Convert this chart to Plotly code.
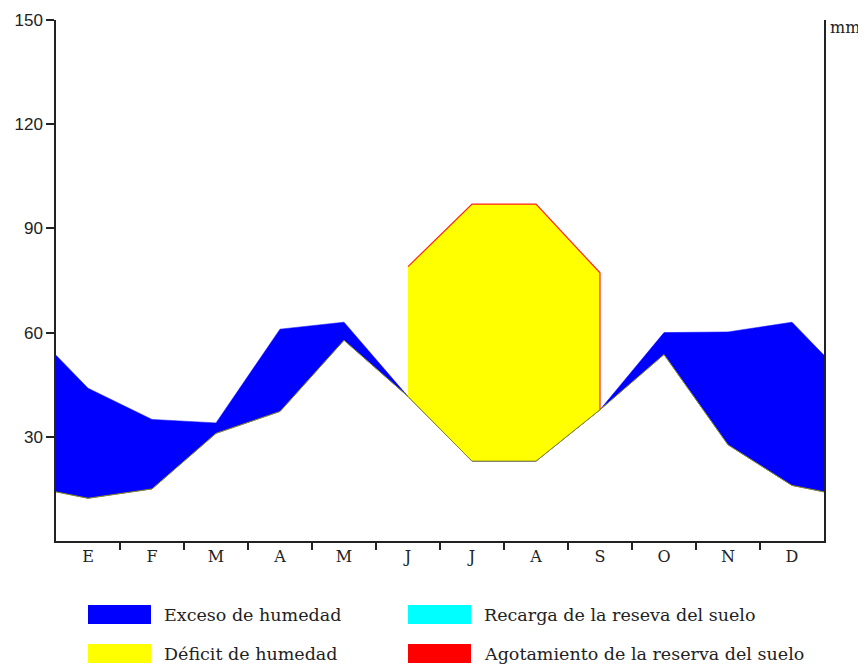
import plotly.graph_objects as go

# ---- data (mm) ----
months = ["E", "F", "M", "A", "M", "J", "J", "A", "S", "O", "N", "D"]
precip = [44, 35, 34, 61, 63, 41.6, 23, 23, 37.8, 60, 60.2, 63]
etp = [12.3, 15, 31, 37.3, 57.8, 79, 97, 97, 77.2, 53.7, 27.7, 16]
y_ticks = [30, 60, 90, 120, 150]
legend_labels = ["Exceso de humedad", "Déficit de humedad",
                 "Recarga de la reseva del suelo", "Agotamiento de la reserva del suelo"]
legend_colors = ["#0000FF", "#FFFF00", "#00FFFF", "#FF0000"]

# page has an 8px body margin: compensate
OFF = 8
W, H = 866 - OFF, 664 - OFF
L, R, T, B = 56 - OFF, 42, 20 - OFF, 123

n = len(months)
centers = [i + 0.5 for i in range(n)]
edge_p = (precip[-1] + precip[0]) / 2
edge_e = (etp[-1] + etp[0]) / 2
xs = [0] + centers + [n]
p_ext = [edge_p] + precip + [edge_p]
e_ext = [edge_e] + etp + [edge_e]
low_ext = [min(a, b) for a, b in zip(p_ext, e_ext)]

fig = go.Figure()

# Excess of humidity (P above ETP)
fig.add_trace(go.Scatter(
    x=xs + xs[::-1], y=p_ext + low_ext[::-1], fill="toself",
    fillcolor="#0000FF", line=dict(color="#0000FF", width=0.5),
    mode="lines", hoverinfo="skip", showlegend=False))

# Deficit months (ETP above P)
dm = [i for i in range(n) if etp[i] > precip[i]]
dx = [centers[i] for i in dm]
dtop = [etp[i] for i in dm]
dbot = [precip[i] for i in dm]
fig.add_trace(go.Scatter(
    x=dx + dx[::-1], y=dtop + dbot[::-1], fill="toself",
    fillcolor="#FFFF00", line=dict(width=0),
    mode="lines", hoverinfo="skip", showlegend=False))
# red outline (top and right edge)
fig.add_trace(go.Scatter(
    x=dx + [dx[-1]], y=dtop + [dbot[-1]], mode="lines",
    line=dict(color="#FF2020", width=1.2), hoverinfo="skip", showlegend=False))
# lower envelope line
fig.add_trace(go.Scatter(
    x=xs, y=low_ext, mode="lines",
    line=dict(color="#8A8A10", width=1), hoverinfo="skip", showlegend=False))

axis_col = "#222222"
fig.update_xaxes(
    range=[0, n], showgrid=False, zeroline=False, showline=True,
    linecolor=axis_col, linewidth=1.5, automargin=False,
    tickvals=centers, ticktext=months, ticks="",
    tickfont=dict(family="DejaVu Serif", size=16, color="#222"),
    minor=dict(tickvals=list(range(1, n)), ticks="outside", ticklen=7,
               tickcolor=axis_col, tickwidth=1.5),
    fixedrange=True)
fig.update_yaxes(
    range=[0, 150], showgrid=False, zeroline=False, showline=True, mirror=True,
    linecolor=axis_col, linewidth=1.5, automargin=False,
    tickvals=y_ticks, ticks="outside", ticklen=8, tickcolor=axis_col, tickwidth=1.5,
    tickfont=dict(family="Liberation Sans", size=17, color="#222"),
    fixedrange=True)

def px(xp):
    # xp in page pixels
    return (xp - OFF - L) / (W - L - R)

def py(yp):
    return (H - B - (yp - OFF)) / (H - T - B)

shapes = []
annots = []
rect_x = [88, 88, 408, 408]
rect_y = [605, 644, 605, 644]
for lab, col, rx, ry in zip(legend_labels, legend_colors, rect_x, rect_y):
    shapes.append(dict(type="rect", xref="paper", yref="paper",
                       x0=px(rx), x1=px(rx + 63), y0=py(ry), y1=py(ry + 19),
                       fillcolor=col, line=dict(width=0)))
    annots.append(dict(text=lab, xref="paper", yref="paper",
                       x=px(rx + 74), y=py(ry + 10), xanchor="left", yanchor="middle",
                       showarrow=False,
                       font=dict(family="DejaVu Serif", size=17.5, color="#222")))
annots.append(dict(text="mm", xref="paper", yref="paper", x=px(828), y=py(28),
                   xanchor="left", yanchor="middle", showarrow=False,
                   font=dict(family="DejaVu Serif", size=16, color="#222")))

fig.update_layout(
    width=W, height=H, margin=dict(l=L, r=R, t=T, b=B, autoexpand=False),
    paper_bgcolor="white", plot_bgcolor="white",
    shapes=shapes, annotations=annots, showlegend=False)

fig.write_html("out.html")
